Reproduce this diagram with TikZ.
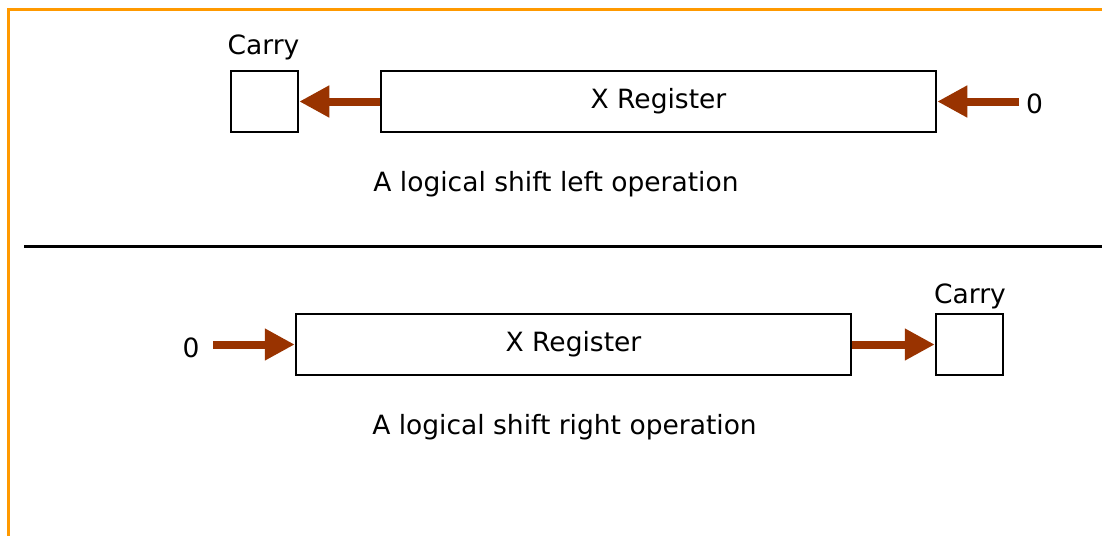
\documentclass[tikz,border=0pt]{standalone}
\usepackage{fontspec}
\setmainfont{DejaVu Sans}
\usetikzlibrary{arrows.meta}
\definecolor{shiftbrown}{RGB}{153,51,0}
\definecolor{frameorange}{RGB}{255,153,0}
\begin{document}
\begin{tikzpicture}[x=1pt,y=-1pt,
  every node/.style={font=\fontsize{26.5}{30}\selectfont, text=black},
  regbox/.style={draw=black, line width=2.5pt, minimum width=555pt, minimum height=61pt, inner sep=0pt},
  carrybox/.style={draw=black, line width=2.5pt, minimum width=67pt, minimum height=61pt, inner sep=0pt},
  shiftarrow/.style={draw=shiftbrown, line width=8pt, -{Triangle[length=30pt,width=30pt]}},
  lbl/.style={anchor=base, inner sep=0pt}]
\useasboundingbox (0,0) rectangle (1102,535);
% frame
\draw[frameorange, line width=3pt] (8,536) -- (8,9.5) -- (1103,9.5);
% divider
\draw[black, line width=3pt] (24,246) -- (1103,246);
% top: shift left
\node[carrybox] (cl) at (264.5,101.5) {};
\node[lbl] (cltxt) at (263.5,55) {Carry};
\node[regbox] (xl) at (658.5,101.5) {X Register};
\coordinate (zl) at (1019,101.5);
\node[lbl] (zltxt) at (1034.5,113) {0};
\draw[shiftarrow] (xl.west) -- (cl.east);
\draw[shiftarrow] (zl) -- (xl.east);
\node[lbl] (capl) at (556,191) {A logical shift left operation};
% bottom: shift right
\node[regbox] (xr) at (573.5,344.5) {X Register};
\node[carrybox] (cr) at (969.5,344.5) {};
\node[lbl] (crtxt) at (970,303) {Carry};
\coordinate (zr) at (213,344.5);
\node[lbl] (zrtxt) at (191,357) {0};
\draw[shiftarrow] (zr) -- (xr.west);
\draw[shiftarrow] (xr.east) -- (cr.west);
\node[lbl] (capr) at (564.5,434) {A logical shift right operation};
\end{tikzpicture}
\end{document}
